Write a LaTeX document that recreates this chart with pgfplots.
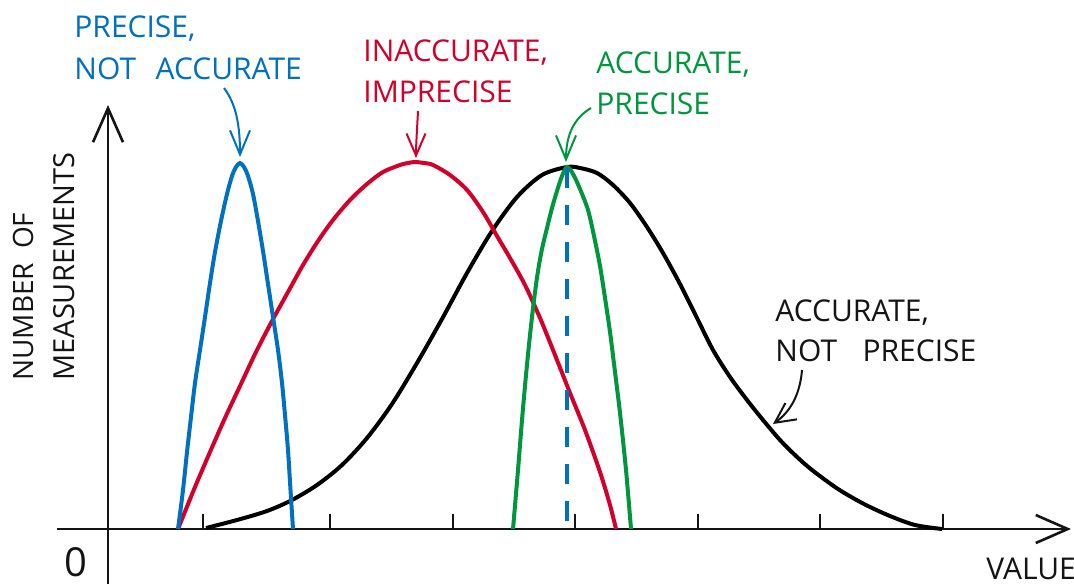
\documentclass[border=0pt]{standalone}
\usepackage{fontspec}
\setmainfont{Open Sans}
\usepackage{pgfplots}
\pgfplotsset{compat=1.18}
\usetikzlibrary{arrows.meta}
\definecolor{cblue}{RGB}{0,112,192}
\definecolor{cred}{RGB}{210,0,42}
\definecolor{cgreen}{RGB}{0,150,62}
\definecolor{ctext}{RGB}{20,20,20}
\begin{document}
\begin{tikzpicture}
\begin{axis}[
  width=537pt, height=292pt, scale only axis,
  xmin=0, xmax=1074, ymin=0, ymax=584, y dir=reverse,
  hide axis, clip=false,
]
\coordinate (bl) at (axis cs:0,584);
\coordinate (tr) at (axis cs:1074,0);
% axes
\draw[ctext, line width=1.3pt, -{Straight Barb[length=16pt,width=14pt,line width=1.3pt]}] (axis cs:57,529) -- (axis cs:1071,529);
\draw[ctext, line width=1.3pt, -{Straight Barb[length=17pt,width=15pt,line width=1.3pt]}] (axis cs:108,584) -- (axis cs:108,105);
\pgfplotsinvokeforeach{203,330,453,575,698,820,943}{
  \draw[ctext, line width=1pt] (axis cs:#1,529) -- (axis cs:#1,514);
}
% accurate, not precise
\addplot[black, line width=2pt, smooth, tension=0.5] coordinates {
(206,528)(237,520)(267,511)(292,500)(317,485)(342,465)(367,438)(392,404)(417,363)(442,319)(467,273)(492,231)(517,197)(542,175)(567,167)
(580,168)(597,173)(613,185)(630,203)(647,227)(663,253)(680,284)(697,318)(713,350)(730,377)(747,400)(763,420)(780,440)(796,456)(812,470)(838,489)(864,504)(890,516)(915,525)(942,529)};
% inaccurate, imprecise
\addplot[cred, line width=2pt, smooth, tension=0.5] coordinates {
(178,529)(195,487)(210,452)(225,418)(240,386)(256,352)(272,321)(288,292)(303,265)(318,241)(333,220)(350,200)(367,184)(383,172)(400,165)(408,163)(415,162)(424,163)
(433,165)(450,175)(467,190)(483,212)(497,236)(510,258)(525,285)(540,318)(555,355)(570,393)(585,430)(600,472)(610,505)(616,529)};
% precise, not accurate
\addplot[cblue, line width=2pt, smooth, tension=0.5] coordinates {
(178,529)(183,490)(187,452)(191,417)(195,383)(200,350)(205,317)(210,283)(215,252)(221,221)(227,194)(232,176)(236,167)(240,163)
(244,167)(248,176)(253,194)(258,221)(263,251)(268,284)(273,317)(278,350)(282,383)(285,415)(288,450)(290.5,490)(293,529)};
% accurate, precise
\addplot[cgreen, line width=2pt, smooth, tension=0.5] coordinates {
(513,529)(518,470)(522,420)(526,375)(530,335)(534,300)(538,271)(542,249)(547,228)(552,208)(557,191)(562,176)(567,167)
(573,174)(580,189)(588,210)(594,236)(600,266)(605,298)(610,332)(615,372)(620,413)(626,470)(631,529)};
% true value
\addplot[cblue, line width=2pt, dash pattern=on 10pt off 8.5pt] coordinates {(567,168)(567,529)};
% labels
\begin{scope}[every node/.style={inner sep=0pt, anchor=base west, font=\fontsize{15}{20}\selectfont}]
\node[text=cblue] at (axis cs:74,37) {PRECISE,};
\node[text=cblue] at (axis cs:74,79) {NOT\hspace{0.65em}ACCURATE};
\node[text=cred] at (axis cs:363,61) {INACCURATE,};
\node[text=cred] at (axis cs:363,102) {IMPRECISE};
\node[text=cgreen] at (axis cs:596,73) {ACCURATE,};
\node[text=cgreen] at (axis cs:596,114) {PRECISE};
\node[text=ctext] at (axis cs:775,321) {ACCURATE,};
\node[text=ctext] at (axis cs:775,361) {NOT\hspace{0.85em}PRECISE};
\node[text=ctext, rotate=90, font=\fontsize{14}{20}\selectfont] at (axis cs:34,381) {NUMBER\hspace{0.5em}OF};
\node[text=ctext, rotate=90, font=\fontsize{14.5}{20}\selectfont] at (axis cs:74,381) {MEASUREMENTS};
\node[text=ctext] at (axis cs:986,579) {VALUE};
\node[text=ctext, font=\fontsize{20}{24}\selectfont] at (axis cs:64,576) {0};
\end{scope}
% annotation arrows
\draw[cblue, line width=1pt, -{Straight Barb[length=12pt,width=10pt,line width=1pt]}] (axis cs:224,88) .. controls (axis cs:236,104) and (axis cs:240,125) .. (axis cs:240,157);
\draw[cred, line width=1pt, -{Straight Barb[length=11pt,width=9.5pt,line width=1pt]}] (axis cs:418,111) .. controls (axis cs:417,130) and (axis cs:416,145) .. (axis cs:416,158);
\draw[cgreen, line width=1pt, -{Straight Barb[length=12pt,width=10pt,line width=1pt]}] (axis cs:591,108) .. controls (axis cs:574,118) and (axis cs:566,135) .. (axis cs:566,162);
\draw[ctext, line width=1pt, -{Straight Barb[length=10pt,width=10pt,line width=1pt]}] (axis cs:802,370) .. controls (axis cs:800,395) and (axis cs:790,412) .. (axis cs:773,424);
\end{axis}
\pgfresetboundingbox
\path (bl) rectangle (tr);
\end{tikzpicture}
\end{document}
